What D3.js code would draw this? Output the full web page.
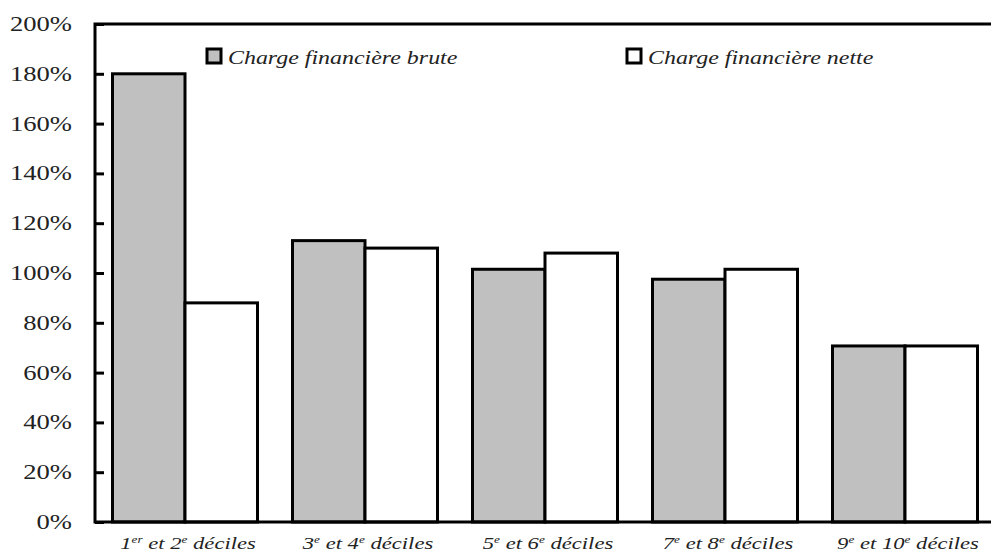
<!DOCTYPE html>
<html>
<head>
<meta charset="utf-8">
<script src="https://cdn.jsdelivr.net/npm/d3@7"></script>
<style>
  body { margin: 0; background: #fff; }
  svg text { font-family: "Liberation Serif", "DejaVu Serif", serif; fill: #222; }
</style>
</head>
<body>
<script>
(function(){

// categories: [number, sup, number, sup]
var categories = [
    ["1", "er", "2", "e"],
    ["3", "e", "4", "e"],
    ["5", "e", "6", "e"],
    ["7", "e", "8", "e"],
    ["9", "e", "10", "e"]
];
var brute = [180, 113, 101.5, 97.5, 70.7];   //charge financière brute
var nette = [88, 110, 108, 101.5, 70.7];      //charge financière nette
var yTicks = [0, 20, 40, 60, 80, 100, 120, 140, 160, 180, 200];
var seriesNames = ["Charge financière brute", "Charge financière nette"];
var seriesColors = ["#c0c0c0", "#ffffff"];

var width = 991, height = 554;
var left = 95, right = 995, top = 24, bottom = 522;
var stretch = 1.33; //the original text is drawn wide

var svg = d3.select("body").append("svg")
    .attr("width", width)
    .attr("height", height);

var x = d3.scaleBand()
    .domain(d3.range(categories.length))
    .range([left, right])
    .paddingInner(35 / 180)
    .paddingOuter(17.5 / 180);

var y = d3.scaleLinear()
    .domain([0, 200])
    .range([bottom, top]);

//bars
var series = [brute, nette];
series.forEach(function(vals, s){
    svg.selectAll(".bar" + s)
        .data(vals)
        .enter()
        .append("rect")
        .attr("class", "bar" + s)
        .attr("x", function(d, i){ return x(i) + s * x.bandwidth() / 2; })
        .attr("width", x.bandwidth() / 2)
        .attr("y", function(d){ return y(d); })
        .attr("height", function(d){ return y(0) - y(d); })
        .style("fill", seriesColors[s])
        .style("stroke", "#000")
        .style("stroke-width", 3);
});

//frame: left, top, bottom
svg.append("path")
    .attr("d", "M" + right + "," + top + "H" + left + "V" + bottom + "H" + right)
    .style("fill", "none")
    .style("stroke", "#000")
    .style("stroke-width", 3);

//y axis (inward ticks)
var yAxis = d3.axisRight(y)
    .tickValues(yTicks)
    .tickSize(9)
    .tickFormat("");
var ax = svg.append("g")
    .attr("transform", "translate(" + left + ",0)")
    .call(yAxis);
ax.select(".domain").remove();
ax.selectAll("line").style("stroke", "#000").style("stroke-width", 3);

svg.selectAll(".ylab")
    .data(yTicks)
    .enter()
    .append("text")
    .attr("class", "ylab")
    .attr("transform", function(d){ return "translate(72," + (y(d) + 7) + ") scale(" + stretch + ",1)"; })
    .attr("text-anchor", "end")
    .style("font-size", "20px")
    .text(function(d){ return d + "%"; });

//x labels
var xl = svg.selectAll(".xlab")
    .data(categories)
    .enter()
    .append("text")
    .attr("class", "xlab")
    .attr("transform", function(d, i){
        return "translate(" + (x(i) + x.bandwidth() / 2 + 3) + ",549) scale(" + stretch + ",1)";
    })
    .attr("text-anchor", "middle")
    .style("font-size", "17px")
    .style("font-style", "italic");
xl.each(function(d){
    var t = d3.select(this);
    t.append("tspan").text(d[0]);
    t.append("tspan").attr("dy", -6).style("font-size", "10px").text(d[1]);
    t.append("tspan").attr("dy", 6).text(" et " + d[2]);
    t.append("tspan").attr("dy", -6).style("font-size", "10px").text(d[3]);
    t.append("tspan").attr("dy", 6).text(" déciles");
});

//legend
var legendX = [207, 627];
seriesNames.forEach(function(name, s){
    svg.append("rect")
        .attr("x", legendX[s])
        .attr("y", 49)
        .attr("width", 14)
        .attr("height", 14)
        .style("fill", seriesColors[s])
        .style("stroke", "#000")
        .style("stroke-width", 3);
    svg.append("text")
        .attr("transform", "translate(" + (legendX[s] + 21) + ",64) scale(" + stretch + ",1)")
        .style("font-size", "18px")
        .style("font-style", "italic")
        .text(name);
});

})();
</script>
</body>
</html>
